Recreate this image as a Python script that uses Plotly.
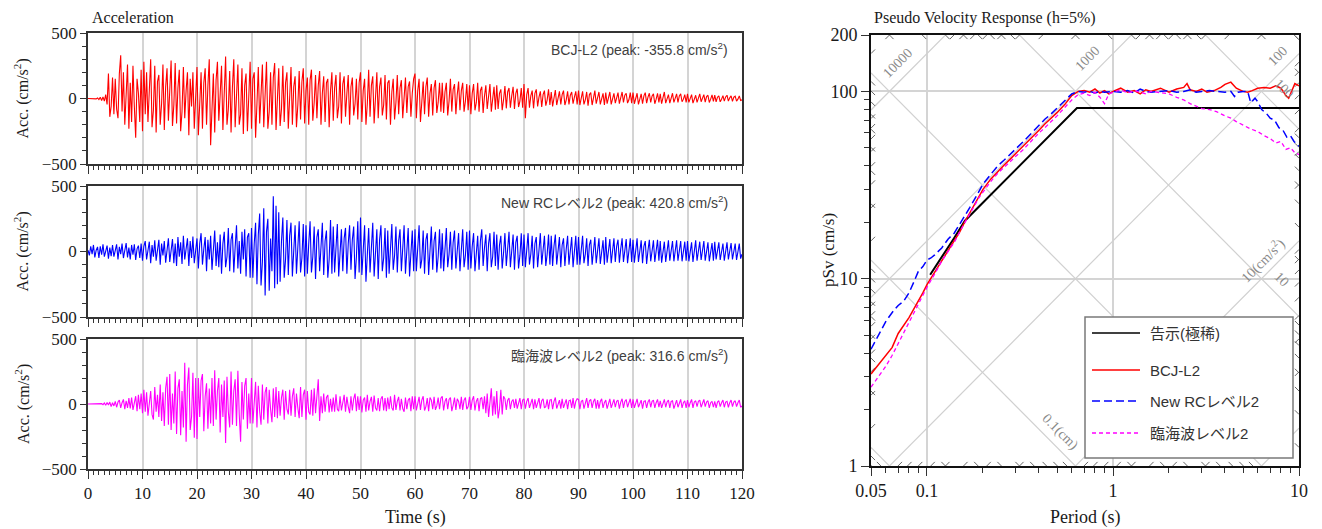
import numpy as np
import plotly.graph_objects as go

W0, H0 = 1322, 529          # window size
OFF = 8                     # default body margin of the html page
W, H = W0 - OFF, H0 - OFF   # figure size

# ------------------------- DATA -------------------------
DT = 0.25
acc_bcj = [
    0, 0, 0, 0, 0, 2, -3, 4, -8, 10, -15, 12, -20, 30, -45, 190, -140, -60, 160, -120,
    150, -80, -150, 190, 330, -100, 200, -200, 90, 260, -230, 120, -180, 250, -60, -300, 150, 40, -180, 220,
    -250, 280, -120, 200, -180, 60, 300, -220, -90, 250, -260, 130, 180, -200, -40, 260, -240, 90, 230, -170,
    120, 290, -210, -50, 270, -190, 80, 220, -250, -100, 240, -150, 60, 200, -280, 150, -60, 200, -230, 80,
    240, -280, 50, 200, -230, 120, 230, -200, 100, 300, -356, -60, 190, -260, 140, 280, -170, 30, 250, -240,
    120, 320, -200, -80, 210, -260, 90, 300, -220, 60, 260, -200, -120, 230, -270, 100, 190, -250, 30, 280,
    -230, 150, 200, -300, -40, 240, -190, 110, 260, -220, 70, 280, -230, -100, 200, -200, 160, 270, -240, 40,
    230, -210, -80, 250, -180, 120, 200, -230, 30, 240, -200, 90, 170, -220, -50, 210, -160, 130, 230, -190,
    60, 160, -200, 140, 220, -170, -30, 180, -150, 100, 210, -200, 40, 170, -180, 120, 150, -220, 60, 200,
    -170, 80, 180, -150, -60, 200, -190, 110, 170, -140, 40, 180, -200, 90, 160, -130, -40, 150, -160, 120,
    200, -180, 60, 150, -200, -40, 220, -140, 100, 170, -190, 30, 200, -150, 90, 160, -130, -50, 180, -160,
    120, 140, -200, 50, 150, -160, -30, 180, -120, 80, 140, -150, 30, 160, -110, 90, 130, -140, 40, 150,
    190, -150, 60, 150, -180, -20, 130, -120, 90, 160, -140, 40, 110, -130, 80, 140, -110, -30, 120, -100,
    120, -110, 50, 120, -130, -20, 150, -100, 70, 110, -120, 30, 130, -90, 60, 120, -100, -20, 110, -90,
    100, -120, 40, 110, -90, -30, 120, -100, 60, 90, -110, 20, 100, -80, 50, 110, -100, -20, 90, -85,
    100, -80, 40, 70, -90, -10, 95, -75, 50, 80, -70, 20, 90, -80, 40, 75, -65, -20, 80, -70,
    110, -150, 30, 80, -70, 20, 60, -75, 40, 70, -60, 10, 55, -65, 30, 60, -55, -10, 70, -50,
    50, -60, 20, 65, -50, 10, 55, -45, 30, 60, -50, -10, 55, -45, 25, 50, -40, 10, 55, -45,
    60, -50, 20, 55, -45, -10, 50, -55, 30, 45, -50, 10, 60, -40, 20, 50, -45, -10, 40, -50,
    45, -40, 15, 50, -45, -5, 40, -35, 20, 45, -40, 10, 50, -30, 25, 40, -35, -10, 45, -35,
    45, -40, 10, 40, -45, -5, 35, -40, 20, 45, -35, 10, 40, -30, 20, 35, -40, -5, 40, -30,
    35, -40, 10, 50, -35, -10, 30, -35, 15, 40, -30, 5, 35, -30, 20, 35, -25, -5, 30, -30,
    35, -30, 10, 30, -35, -5, 25, -30, 15, 35, -25, 5, 30, -28, 15, 25, -30, -5, 28, -22,
    25, -25, 10, 20, -25, -5, 22, -20, 12, 25, -20, 5, 20, -22, 10, 18, -20, -5, 20, -15,
    -10,
]
acc_newrc = [
    10, -30, 40, -20, 50, -45, 10, 35, -50, 40, -25, 55, -40, 15, 45, -55, 30, -35, 50, -40,
    20, 55, -60, 35, -20, 60, -50, 10, 65, -45, 30, -60, 50, -25, 55, -65, 20, 45, -50, 60,
    -70, 40, 80, -60, 10, 75, -90, 50, -40, 85, -70, 20, 90, -100, 60, -30, 80, -85, 40, 100,
    -80, 30, 95, -90, 60, -110, 110, -40, 70, -95, 120, -60, 30, 100, -110, 80, -50, 115, -90, 40,
    100, -130, 60, 140, -100, 20, 110, -150, 90, -60, 120, -140, 40, 160, -110, 70, -120, 130, -170, 60,
    150, -120, -40, 180, -150, 90, 140, -160, 30, 200, -130, 80, -170, 150, -60, 170, -190, 110, 140, -200,
    180, -200, 60, 220, -250, 130, 290, -260, -80, 330, -335, 150, 250, -300, 100, -150, 421, -280, 350, -250,
    300, -230, 80, 260, -200, -60, 240, -180, 120, 220, -190, 40, 200, -170, 90, 230, -160, -50, 210, -190,
    200, -170, 60, 230, -160, -40, 190, -210, 110, 170, -150, 30, 220, -180, 80, 160, -200, -60, 240, -170,
    190, -160, 50, 210, -190, -30, 170, -150, 100, 180, -170, 60, 200, -140, 90, 190, -210, -40, 230, -160,
    260, -180, 40, 200, -230, -60, 180, -160, 100, 220, -190, 20, 170, -210, 90, 200, -150, -50, 180, -200,
    160, -170, 60, 210, -140, -30, 190, -160, 80, 170, -150, 40, 200, -170, 70, 180, -190, -20, 160, -150,
    170, -150, 40, 200, -130, -60, 160, -170, 90, 140, -180, 30, 190, -140, 80, 150, -160, -40, 170, -130,
    140, -150, 50, 180, -120, -20, 150, -140, 70, 160, -130, 40, 140, -150, 60, 170, -120, -30, 150, -140,
    160, -130, 40, 140, -150, -20, 120, -140, 80, 170, -110, 30, 130, -150, 60, 140, -120, -40, 150, -110,
    130, -140, 50, 120, -130, -10, 140, -110, 60, 150, -120, 20, 130, -140, 70, 120, -130, -30, 140, -110,
    130, -120, 40, 140, -100, -20, 120, -130, 60, 110, -120, 30, 140, -100, 50, 120, -110, -20, 130, -100,
    120, -110, 40, 130, -100, -10, 110, -120, 50, 100, -110, 20, 120, -100, 40, 110, -120, -10, 120, -100,
    110, -100, 30, 120, -90, -20, 100, -110, 50, 90, -100, 20, 110, -90, 40, 100, -95, -10, 85, -100,
    110, -85, 30, 95, -90, -10, 100, -80, 40, 90, -85, 20, 100, -80, 30, 95, -90, -10, 100, -80,
    90, -85, 30, 100, -80, -10, 85, -90, 40, 80, -95, 10, 90, -75, 30, 85, -80, -10, 90, -70,
    80, -85, 20, 75, -80, -10, 85, -70, 30, 80, -75, 10, 85, -70, 30, 80, -75, -5, 75, -70,
    80, -75, 20, 70, -80, -10, 85, -70, 30, 75, -65, 10, 80, -70, 25, 70, -75, -10, 65, -70,
    75, -60, 20, 70, -65, -5, 60, -70, 25, 70, -60, 10, 65, -60, 20, 60, -65, -5, 60, -55,
    -20,
]
acc_rinkai = [
    0, 0, 0, 0, 0, 0, 0, 0, 0, 0, 3, -5, 8, -10, 12, -8, 15, -20, 10, -15,
    20, -25, 15, 30, -30, 10, 35, -40, 25, -30, 45, -35, 50, -45, 20, 60, -55, 70, -40, 80,
    -70, 110, -60, 90, -90, 40, 100, -80, -120, 130, -60, 70, -100, 150, -130, 90, -170, 120, 210, -160,
    230, -200, 80, -150, 250, -230, 120, 190, -240, 100, -180, 317, -290, 150, 280, -200, -100, 240, -260, 200,
    -270, 200, -100, 180, 230, -210, 60, 160, -190, 120, -150, 200, -170, 260, -120, 100, 200, -220, 150, -100,
    180, -300, 210, -60, -180, 250, -160, 100, 190, -170, 255, -80, -290, 170, -120, 140, 200, -190, 80, -150,
    200, -150, 60, 170, -180, 140, -60, -160, 150, -120, 90, 130, -150, 110, -40, -140, 120, -100, 130, -110,
    100, -90, 50, 110, -120, 100, -40, -80, 110, -90, 60, 120, -100, 80, -30, -110, 130, -100, 70, 110,
    -120, 100, -60, -80, 110, -90, 120, -70, 60, 190, -130, 60, -70, 80, -60, 50, 70, -65, 40, -60,
    50, -60, 75, -40, -55, 60, -50, 30, 70, -60, 55, -20, -70, 60, -50, 40, 80, -55, 60, -45,
    60, -65, 30, 50, -60, 70, -50, 20, 55, -60, 65, -30, -50, 45, -55, 40, 60, -50, 45, -55,
    50, -40, 60, -30, -50, 70, -45, 20, 55, -50, 40, -35, -60, 50, -40, 30, 45, -55, 60, -40,
    60, -50, 20, 55, -45, 30, 60, -50, -20, 45, -55, 50, 30, -40, 55, -45, -15, 50, -40, 45,
    60, -50, 20, 45, -40, 35, 50, -55, -10, 50, -45, 40, 20, -40, 55, -45, 30, 50, -40, -20,
    55, -45, 30, 60, -50, 20, 45, -55, 40, 50, -40, 60, -70, 80, -100, 40, 120, -90, 60, -80,
    100, -110, -40, 110, -80, 60, 40, -45, 30, 45, -40, 20, 35, -30, 40, -35, 20, 45, -40, 30,
    40, -35, 20, 45, -30, 10, 40, -40, 35, -30, 20, 45, -35, 25, 40, -30, -20, 35, -40, 30,
    35, -40, 20, 50, -35, 10, 30, -35, 40, -30, 15, 35, -40, 25, 30, -30, 45, -35, 20, 40,
    35, -40, 20, 30, -35, 15, 45, -30, 25, 35, -30, 20, 40, -35, 30, -35, 20, 40, -30, 10,
    30, -35, 15, 40, -30, 10, 35, -25, 20, 30, -35, 15, 40, -30, 20, 35, -25, 10, 40, -30,
    35, -30, 15, 40, -25, 10, 30, -35, 20, 25, -30, 15, 35, -25, 20, 30, -30, 10, 35, -25,
    25, -30, 10, 35, -25, 15, 30, -30, 20, 25, -35, 10, 30, -25, 15, 35, -30, 10, 25, -30,
    30, -25, 10, 35, -30, 15, 25, -20, 20, 30, -25, 10, 35, -20, 15, 25, -30, 10, 20, -25,
    20, -30, 15, 25, -20, 10, 30, -25, 15, 20, -25, 10, 30, -20, 15, 25, -20, 10, 30, -25,
    -15,
]
peak_labels = [
    "BCJ-L2 (peak: -355.8 cm/s<sup>2</sup>)",
    "New RCレベル2 (peak: 420.8 cm/s<sup>2</sup>)",
    "臨海波レベル2 (peak: 316.6 cm/s<sup>2</sup>)",
]

# pseudo velocity response spectra (h=5%)
T_code = [0.104, 0.12, 0.14, 0.16, 0.64, 10]
sv_code = [10.5, 13.0, 16.5, 20.4, 81.5, 81.5]

T_bcj = [0.05, 0.055, 0.06, 0.065, 0.07, 0.075, 0.08, 0.085, 0.09, 0.095, 0.1, 0.11, 0.12, 0.13, 0.14,
         0.15, 0.16, 0.17, 0.18, 0.19, 0.2, 0.22, 0.24, 0.26, 0.28, 0.3, 0.33, 0.36, 0.4, 0.43, 0.46,
         0.5, 0.55, 0.6, 0.65, 0.7, 0.75, 0.8, 0.85, 0.9, 0.95, 1.0, 1.1, 1.2, 1.3, 1.4, 1.5, 1.6, 1.8,
         2.0, 2.2, 2.4, 2.5, 2.6, 2.8, 3.0, 3.2, 3.5, 3.8, 4.0, 4.3, 4.6, 5.0, 5.3, 5.6, 6.0, 6.5, 7.0,
         7.5, 8.0, 8.5, 8.8, 9.2, 9.5, 10]
sv_bcj = [3.1, 3.5, 3.9, 4.3, 5.1, 5.6, 6.2, 6.9, 7.6, 8.4, 9.3, 10.8, 12.4, 14.2, 15.8,
          17.8, 20.2, 22.5, 25, 27.5, 30, 34, 37.5, 40.5, 43.5, 46.5, 51, 56, 62, 67, 71,
          77, 85, 95, 100, 101, 99, 103, 98, 101, 97, 100, 104, 99, 101, 97, 102, 100, 104,
          99, 103, 105, 110, 102, 100, 103, 99, 101, 105, 109, 112, 104, 100, 99, 101, 104, 105, 104,
          107, 104, 95, 92, 102, 110, 107]

T_newrc = [0.05, 0.055, 0.06, 0.065, 0.07, 0.075, 0.08, 0.085, 0.09, 0.095, 0.1, 0.105, 0.11, 0.12,
           0.13, 0.14, 0.15, 0.16, 0.17, 0.18, 0.19, 0.2, 0.22, 0.24, 0.26, 0.28, 0.3, 0.33, 0.36, 0.4,
           0.43, 0.46, 0.5, 0.55, 0.6, 0.65, 0.7, 0.75, 0.8, 0.85, 0.9, 1.0, 1.1, 1.2, 1.3, 1.4, 1.5,
           1.6, 1.8, 2.0, 2.2, 2.4, 2.6, 2.8, 3.0, 3.3, 3.6, 4.0, 4.3, 4.5, 4.7, 5.0, 5.3, 5.5, 5.8,
           6.0, 6.3, 6.7, 7.0, 7.4, 7.8, 8.2, 8.6, 9.0, 9.4, 10]
sv_newrc = [4.2, 5.0, 5.9, 6.6, 7.2, 7.6, 8.4, 9.6, 11.0, 11.6, 12.6, 12.9, 13.4, 14.6,
            16.3, 17.5, 19.5, 21.5, 24, 26.5, 29, 32, 36, 40, 43, 46, 49.5, 54, 59, 66,
            71, 75, 81, 89, 97, 100, 99, 100, 98, 100, 99, 100, 99, 101, 98, 103, 100,
            99, 100, 101, 99, 100, 102, 99, 100, 101, 100, 99, 100, 94, 99, 100, 100, 87, 92,
            88, 80, 76, 72, 70, 64, 62, 57, 58, 54, 51]

T_rinkai = [0.05, 0.055, 0.06, 0.065, 0.07, 0.075, 0.08, 0.085, 0.09, 0.095, 0.1, 0.11, 0.12, 0.13,
            0.14, 0.15, 0.16, 0.17, 0.18, 0.19, 0.2, 0.22, 0.24, 0.26, 0.28, 0.3, 0.33, 0.36, 0.4,
            0.43, 0.46, 0.5, 0.55, 0.6, 0.65, 0.7, 0.75, 0.8, 0.85, 0.9, 0.95, 1.0, 1.1, 1.2, 1.3,
            1.4, 1.5, 1.6, 1.8, 2.0, 2.2, 2.4, 2.6, 2.8, 3.0, 3.3, 3.6, 4.0, 4.3, 4.6, 5.0, 5.5,
            6.0, 6.5, 7.0, 7.5, 8.0, 8.5, 9.0, 9.5, 10]
sv_rinkai = [2.64, 3.0, 3.4, 3.9, 4.5, 5.1, 5.8, 6.5, 7.3, 8.1, 9.0, 10.6, 12.4, 14.0,
             15.6, 17.8, 20, 22.5, 24.5, 27, 29, 33, 36.5, 39.5, 42, 45, 49, 54, 60,
             64, 68, 74, 82, 90, 96, 98, 95, 99, 93, 86, 97, 99, 102, 98, 101,
             99, 97, 100, 98, 97, 93, 90, 86, 83, 81, 80, 78, 74, 72, 69, 66, 63,
             61, 58, 56, 53, 54, 49, 50, 47, 46]

series_names = ["告示(極稀)", "BCJ-L2", "New RCレベル2", "臨海波レベル2"]
series_colors = ["#000000", "#ff0000", "#0000ff", "#ff00ff"]
series_dash = ["solid", "solid", "8px,4px", "4px,3px"]
series_width = [2, 1.5, 1.5, 1.3]

acc_grid = [1, 10, 100, 1000, 10000]        # cm/s^2 (tripartite)
disp_grid = [0.01, 0.1, 1, 10, 100]         # cm
T_span = [0.05, 10]
SV_span = [1, 200]

# ------------------------- HELPERS -------------------------
def px(x):
    """window pixel x -> paper fraction"""
    return (x - OFF) / W

def py(y):
    """window pixel y -> paper fraction"""
    return 1 - (y - OFF) / H

SERIF = "Liberation Serif, Times New Roman, serif"
SANS = "Liberation Sans, Arial, Noto Sans CJK JP, sans-serif"
JP = "Liberation Sans, Arial, Noto Sans CJK JP, sans-serif"
TXT = "#1a1a1a"
FRAME = "#333333"
GRID = "#d4d4d4"

fig = go.Figure()

def label(x, y, text, font, angle=0, xa="center", ya="middle"):
    fig.add_annotation(xref="paper", yref="paper", x=px(x), y=py(y), text=text, textangle=angle,
                       xanchor=xa, yanchor=ya, showarrow=False, font=font)

# ---------------- left: acceleration histories ----------------
panels = [  # (axis suffix, top px, bottom px, data, color)
    ("3", 33, 164, acc_bcj, "#ff0000"),
    ("2", 186, 317, acc_newrc, "#0000ff"),
    ("", 339, 469, acc_rinkai, "#ff00ff"),
]
LX0, LX1 = 88, 742
for i, (s, top, bot, data, col) in enumerate(panels):
    fig.add_trace(go.Scatter(
        x0=0, dx=DT, y=data, mode="lines",
        line=dict(color=col, width=1.1),
        xaxis="x" + s, yaxis="y" + s, showlegend=False, hoverinfo="skip"))
    xa = dict(
        domain=[px(LX0), px(LX1)], range=[0, 120], anchor="y" + s, automargin=False,
        tickvals=list(range(0, 121, 10)), showgrid=True, gridcolor=GRID, gridwidth=1.5,
        ticks="outside", ticklen=8, tickcolor=FRAME, tickwidth=1,
        minor=dict(dtick=1, tick0=0, ticks="outside", ticklen=4, tickcolor=FRAME, showgrid=False),
        showline=True, linecolor=FRAME, linewidth=1.5, mirror=True, zeroline=False,
        showticklabels=(s == ""), tickfont=dict(family=SERIF, size=17, color=TXT),
    )
    ya = dict(
        domain=[py(bot), py(top)], range=[-500, 500], anchor="x" + s, automargin=False,
        tickvals=[-500, 0, 500], ticks="outside", ticklen=6, tickcolor=FRAME,
        minor=dict(dtick=100, tick0=0, ticks="outside", ticklen=4, tickcolor=FRAME, showgrid=False),
        showgrid=False, zeroline=False, showline=True, linecolor=FRAME, linewidth=1.5, mirror=True,
        tickfont=dict(family=SERIF, size=17, color=TXT),
    )
    fig.layout["xaxis" + s] = xa
    fig.layout["yaxis" + s] = ya
    label(22, (top + bot) / 2, "Acc. (cm/s<sup>2</sup>)", dict(family=SERIF, size=16, color=TXT), angle=-90)
    label(730, top + 16, peak_labels[i], dict(family=SANS, size=14, color="#404040"), xa="right")

label(90, 18, "Acceleration", dict(family=SERIF, size=16, color=TXT), xa="left")
label((LX0 + LX1) / 2, 517, "Time (s)", dict(family=SERIF, size=18, color=TXT))

# ---------------- right: tripartite pSv ----------------
RX0, RX1, RY0, RY1 = 871, 1299, 35, 466
Tg = np.array(T_span, dtype=float)
for a in acc_grid:
    fig.add_trace(go.Scatter(x=Tg, y=a * Tg / (2 * np.pi), mode="lines",
                             line=dict(color="#d0d0d0", width=1.2), xaxis="x4", yaxis="y4",
                             showlegend=False, hoverinfo="skip"))
for d in disp_grid:
    fig.add_trace(go.Scatter(x=Tg, y=2 * np.pi * d / Tg, mode="lines",
                             line=dict(color="#d0d0d0", width=1.2), xaxis="x4", yaxis="y4",
                             showlegend=False, hoverinfo="skip"))

# short diagonal minor ticks of the tripartite grid along the frame
tmin, tmax = T_span
smin, smax = SV_span
dl = 10 ** 0.022
tx, ty = [], []
minor_mult = [2, 3, 4, 5, 6, 7, 8, 9]
for base in acc_grid:
    for m in minor_mult:
        a = base * m
        c = a / (2 * np.pi)                       # Sv = c * T
        cands = [(smax / c, smax, 1 / dl, 1 / dl), (smin / c, smin, dl, dl),
                 (tmin, c * tmin, dl, dl), (tmax, c * tmax, 1 / dl, 1 / dl)]
        for t0, s0, ft, fs in cands:
            if tmin <= t0 <= tmax and smin <= s0 <= smax:
                tx += [t0, t0 * ft, None]
                ty += [s0, s0 * fs, None]
for base in [0.001] + disp_grid:
    for m in minor_mult:
        c = 2 * np.pi * base * m                  # Sv = c / T
        cands = [(c / smax, smax, dl, 1 / dl), (c / smin, smin, 1 / dl, dl),
                 (tmin, c / tmin, dl, 1 / dl), (tmax, c / tmax, 1 / dl, dl)]
        for t0, s0, ft, fs in cands:
            if tmin <= t0 <= tmax and smin <= s0 <= smax:
                tx += [t0, t0 * ft, None]
                ty += [s0, s0 * fs, None]
fig.add_trace(go.Scatter(x=tx, y=ty, mode="lines", line=dict(color="#666666", width=1),
                         xaxis="x4", yaxis="y4", showlegend=False, hoverinfo="skip"))

spectra = [(T_code, sv_code), (T_bcj, sv_bcj), (T_newrc, sv_newrc), (T_rinkai, sv_rinkai)]
for k, (tt, vv) in enumerate(spectra):
    fig.add_trace(go.Scatter(x=tt, y=vv, mode="lines", name=series_names[k],
                             line=dict(color=series_colors[k], width=series_width[k], dash=series_dash[k]),
                             xaxis="x4", yaxis="y4", showlegend=False))

fig.layout["xaxis4"] = dict(
    type="log", domain=[px(RX0), px(RX1)], range=[np.log10(tmin), np.log10(tmax)], anchor="y4",
    automargin=False, tickvals=[0.05, 0.1, 1, 10], ticktext=["0.05", "0.1", "1", "10"],
    showgrid=True, gridcolor=GRID, gridwidth=1.5, ticks="outside", ticklen=8, tickcolor=FRAME,
    minor=dict(tickvals=[0.06, 0.07, 0.08, 0.09, 0.2, 0.3, 0.4, 0.5, 0.6, 0.7, 0.8, 0.9,
                         2, 3, 4, 5, 6, 7, 8, 9], ticks="outside", ticklen=5, tickcolor=FRAME,
               showgrid=False),
    showline=True, linecolor="#111", linewidth=1.5, mirror=True, zeroline=False,
    tickfont=dict(family=SERIF, size=18, color=TXT),
)
fig.layout["yaxis4"] = dict(
    type="log", domain=[py(RY1), py(RY0)], range=[np.log10(smin), np.log10(smax)], anchor="x4",
    automargin=False, tickvals=[1, 10, 100, 200], ticktext=["1", "10", "100", "200"],
    showgrid=True, gridcolor=GRID, gridwidth=1.5, ticks="outside", ticklen=8, tickcolor=FRAME,
    minor=dict(tickvals=[2, 3, 4, 5, 6, 7, 8, 9, 20, 30, 40, 50, 60, 70, 80, 90],
               ticks="outside", ticklen=5, tickcolor=FRAME, showgrid=False),
    showline=True, linecolor="#111", linewidth=1.8, mirror=True, zeroline=False,
    tickfont=dict(family=SERIF, size=18, color=TXT),
)

label(872, 18, "Pseudo Velocity Response (h=5%)", dict(family=SERIF, size=16, color=TXT), xa="left")
label(1085, 517, "Period (s)", dict(family=SERIF, size=18, color=TXT))
label(828, 250, "pSv (cm/s)", dict(family=SERIF, size=17, color=TXT), angle=-90)

# tripartite labels
GL = dict(family=SERIF, size=14, color="#8a8a8a")
diag_labels = [
    ("10000", 897, 63, -45), ("1000", 1087, 58, -45), ("100", 1277, 56, -45),
    ("100", 1284, 88, 45), ("10(cm/s<sup>2</sup>)", 1262, 260, -45), ("10", 1282, 279, 45),
    ("0.1(cm)", 1060, 432, 45),
]
for txt, x, y, ang in diag_labels:
    label(x, y, txt, GL, angle=ang)

# legend (drawn manually)
LGX0, LGX1, LGY0, LGY1 = 1085, 1293, 317, 458
fig.add_shape(type="rect", xref="paper", yref="paper", x0=px(LGX0), x1=px(LGX1), y0=py(LGY1), y1=py(LGY0),
              line=dict(color="#7a7a7a", width=1.5), fillcolor="white", layer="above")
leg_y = [333, 370, 401, 433]
for k in range(4):
    fig.add_shape(type="line", xref="paper", yref="paper", x0=px(1092), x1=px(1140), y0=py(leg_y[k]),
                  y1=py(leg_y[k]), line=dict(color=series_colors[k], width=1.6, dash=series_dash[k]),
                  layer="above")
    label(1148, leg_y[k], series_names[k], dict(family=JP, size=15, color="#333333"), xa="left")

fig.update_layout(
    width=W, height=H, autosize=False, margin=dict(l=0, r=0, t=0, b=0),
    paper_bgcolor="white", plot_bgcolor="white", showlegend=False,
)

fig.write_html("out.html")
